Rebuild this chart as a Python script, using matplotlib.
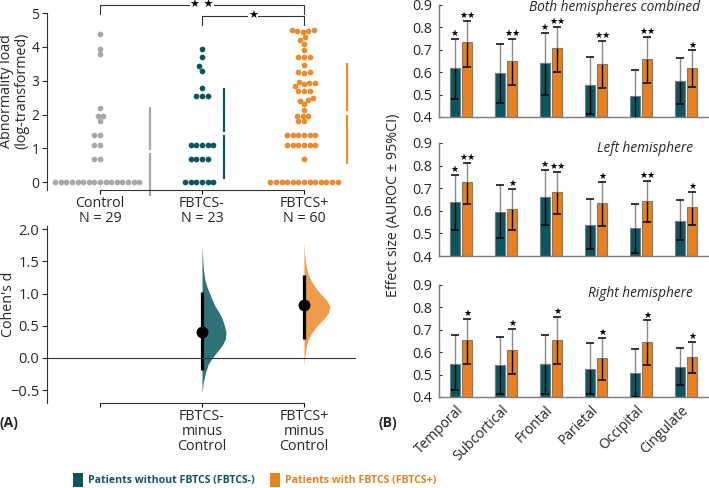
import numpy as np
import matplotlib
matplotlib.use("Agg")
import matplotlib.pyplot as plt
from matplotlib.patches import Rectangle

plt.rcParams["font.family"] = ["Open Sans", "DejaVu Sans"]

TEAL = "#0c5660"
ORANGE = "#e8801f"
GRAY = "#a8a8a8"
TXT = "#262626"

# ---- Panel A, top: abnormality load (log-transformed) per group
groups = ["Control", "FBTCS-", "FBTCS+"]
group_labels = ["Control\nN = 29", "FBTCS-\nN = 23", "FBTCS+\nN = 60"]
control = [4.37, 3.95, 3.78, 2.20, 1.95, 1.95, 1.80, 1.39, 1.39, 1.10, 1.10,
           0.69, 0.69] + [0.0] * 16
fbtcs_neg = [3.93, 3.69, 3.43, 3.30, 2.77, 2.56, 2.56, 2.56] + [1.10] * 5 \
    + [0.69] * 4 + [0.0] * 6
fbtcs_pos = [4.50, 4.49, 4.47, 4.46, 4.44, 4.29, 4.21, 4.09, 3.91,
             3.69, 3.69, 3.69, 3.47, 3.27, 3.27, 3.24,
             2.97, 2.94, 2.94, 2.89, 2.83, 2.69, 2.69, 2.69,
             2.48, 2.42, 2.40, 2.30, 2.12, 1.96, 1.96, 1.96, 1.80, 1.80] \
    + [1.39] * 6 + [1.10] * 6 + [0.69] + [0.0] * 13

# ---- Panel A, bottom: Cohen's d vs control
contrast_labels = ["", "FBTCS-\nminus\nControl", "FBTCS+\nminus\nControl"]
cohen_d = [0.40, 0.82]
cohen_lo = [-0.18, 0.30]
cohen_hi = [1.02, 1.29]
# bootstrap distribution outline (y level, half width)
neg_dist_y = [-0.55, -0.40, -0.25, -0.10, 0.00, 0.10, 0.20, 0.30, 0.40, 0.50,
              0.60, 0.70, 0.80, 0.90, 1.00, 1.10, 1.20, 1.35, 1.50, 1.75]
neg_dist_w = [0.00, 0.01, 0.03, 0.06, 0.10, 0.15, 0.20, 0.23, 0.235, 0.22,
              0.20, 0.17, 0.13, 0.10, 0.075, 0.05, 0.03, 0.015, 0.008, 0.0]
pos_dist_y = [-0.10, 0.05, 0.20, 0.30, 0.40, 0.50, 0.60, 0.70, 0.80, 0.90,
              1.00, 1.10, 1.20, 1.30, 1.45, 1.60, 1.80]
pos_dist_w = [0.00, 0.01, 0.025, 0.045, 0.08, 0.13, 0.19, 0.24, 0.255, 0.22,
              0.16, 0.11, 0.07, 0.04, 0.018, 0.007, 0.0]

# ---- Panel B: AUROC per region
regions = ["Temporal", "Subcortical", "Frontal", "Parietal", "Occipital", "Cingulate"]

both_neg = [0.618, 0.596, 0.643, 0.544, 0.493, 0.560]
both_neg_lo = [0.482, 0.462, 0.500, 0.413, 0.370, 0.458]
both_neg_hi = [0.747, 0.726, 0.777, 0.669, 0.612, 0.663]
both_pos = [0.735, 0.652, 0.706, 0.636, 0.661, 0.620]
both_pos_lo = [0.625, 0.544, 0.599, 0.529, 0.551, 0.534]
both_pos_hi = [0.830, 0.750, 0.803, 0.740, 0.756, 0.697]
both_neg_sig = ["★", "", "★", "", "", ""]
both_pos_sig = ["★★", "★★", "★★", "★★", "★★", "★"]

left_neg = [0.638, 0.594, 0.660, 0.538, 0.522, 0.554]
left_neg_lo = [0.515, 0.479, 0.535, 0.432, 0.415, 0.471]
left_neg_hi = [0.759, 0.713, 0.779, 0.653, 0.632, 0.647]
left_pos = [0.726, 0.610, 0.684, 0.635, 0.643, 0.616]
left_pos_lo = [0.628, 0.515, 0.585, 0.532, 0.549, 0.537]
left_pos_hi = [0.812, 0.696, 0.772, 0.729, 0.731, 0.684]
left_neg_sig = ["★", "", "★", "", "", ""]
left_pos_sig = ["★★", "★", "★★", "★", "★★", "★"]

right_neg = [0.549, 0.541, 0.546, 0.524, 0.507, 0.534]
right_neg_lo = [0.430, 0.415, 0.415, 0.415, 0.398, 0.452]
right_neg_hi = [0.675, 0.666, 0.675, 0.643, 0.614, 0.619]
right_pos = [0.653, 0.611, 0.656, 0.574, 0.647, 0.579]
right_pos_lo = [0.549, 0.504, 0.549, 0.474, 0.544, 0.507]
right_pos_hi = [0.747, 0.704, 0.757, 0.662, 0.742, 0.646]
right_neg_sig = ["", "", "", "", "", ""]
right_pos_sig = ["★", "★", "★", "★", "★", "★"]

W, H = 709, 488
fig = plt.figure(figsize=(W / 100, H / 100), dpi=100)


def rect(l, t, r, b):
    return [l / W, 1 - b / H, (r - l) / W, (b - t) / H]


def beeswarm(vals, xpx, ypx, d):
    """Offsets (data units) so that dots of diameter d px do not overlap."""
    order = np.argsort(vals, kind="stable")
    placed = []
    offs = np.zeros(len(vals))
    for i in order:
        y = vals[i] * ypx
        cands = [0.0]
        for (px, py) in placed:
            dy = abs(py - y)
            if dy < d:
                dx = np.sqrt(d ** 2 - dy ** 2)
                cands += [px - dx, px + dx]
        cands.sort(key=abs)
        for c in cands:
            if all((c - px) ** 2 + (y - py) ** 2 >= d ** 2 - 1e-6 for px, py in placed):
                break
        placed.append((c, y))
        offs[i] = c / xpx
    return offs


# ================= Panel A top: swarm =================
ax1 = fig.add_axes(rect(47, 13, 356, 190))
swarm_colors = [GRAY, TEAL, "#ee8a28"]
XPX, YPX, DOT = 101.9, 33.86, 5.6
gap_offsets = [0.49, 0.22, 0.42]
for i, vals in enumerate([control, fbtcs_neg, fbtcs_pos]):
    vals = np.array(vals)
    xo = beeswarm(vals, XPX, YPX, DOT)
    ax1.scatter(i + xo, vals, s=17, color=swarm_colors[i], linewidths=0, zorder=3)
    m = np.mean(vals)
    s = np.std(vals, ddof=1)
    xg = i + gap_offsets[i]
    c = swarm_colors[i]
    ax1.plot([xg, xg], [m - s, m - 0.05], color=c, lw=1.6, clip_on=False, solid_capstyle="butt")
    ax1.plot([xg, xg], [m + 0.05, m + s], color=c, lw=1.6, clip_on=False, solid_capstyle="butt")

ax1.set_xlim(-0.52, 2.51)
ax1.set_ylim(-0.23, 5.0)
ax1.set_yticks([0, 1, 2, 3, 4, 5])
ax1.set_xticks([0, 1, 2])
ax1.set_xticklabels(group_labels, fontsize=10.3, color=TXT, linespacing=1.0)
ax1.tick_params(axis="y", labelsize=10, colors=TXT, length=3.5, width=0.8, pad=2)
ax1.tick_params(axis="x", length=3, width=0.8, pad=1)
ax1.set_ylabel("Abnormality load\n(log-transformed)", fontsize=10.3, color=TXT, linespacing=1.05)
ax1.yaxis.set_label_coords(-0.058, 0.56)
for sp in ["top", "right"]:
    ax1.spines[sp].set_visible(False)
ax1.spines["bottom"].set_bounds(0, 2)
for sp in ["left", "bottom"]:
    ax1.spines[sp].set_linewidth(0.8)
    ax1.spines[sp].set_color("#333333")

# significance brackets
for (xa, xb, yb, ydrop, lab, xs) in [(0, 2, 5.24, 4.97, "★ ★", 1.0), (1, 2, 4.92, 4.65, "★", 1.5)]:
    ax1.plot([xa, xa, xb, xb], [ydrop, yb, yb, ydrop], color="#333333", lw=0.8, clip_on=False)
    ax1.text(xs, yb, lab, ha="center", va="center", fontsize=8, color="black",
             family="DejaVu Sans", clip_on=False,
             bbox=dict(facecolor="white", edgecolor="none", pad=0.2))

# ================= Panel A bottom: Cohen's d =================
ax2 = fig.add_axes(rect(47, 226, 356, 403))
dist_colors = ["#2e7279", "#f09a4c"]
for i, (dy, dw) in enumerate([(neg_dist_y, neg_dist_w), (pos_dist_y, pos_dist_w)]):
    xc = i + 1
    ax2.fill_betweenx(dy, xc, xc + np.array(dw), color=dist_colors[i], lw=0)
    ax2.plot([xc, xc], [cohen_lo[i], cohen_hi[i]], color="black", lw=2.3, solid_capstyle="butt")
    ax2.plot(xc, cohen_d[i], "o", color="black", markersize=7.5)
ax2.axhline(0, color="#333333", lw=0.8)
ax2.set_xlim(-0.52, 2.51)
ax2.set_ylim(-0.70, 2.05)
ax2.set_yticks([-0.5, 0.0, 0.5, 1.0, 1.5, 2.0])
ax2.set_yticklabels(["\u22120.5", "0.0", "0.5", "1.0", "1.5", "2.0"])
ax2.set_xticks([0, 1, 2])
ax2.set_xticklabels(contrast_labels, fontsize=10.3, color=TXT, linespacing=1.0)
ax2.tick_params(axis="y", labelsize=10.5, colors=TXT, length=3.5, width=0.8, pad=2)
ax2.tick_params(axis="x", length=3, width=0.8, pad=1)
ax2.set_ylabel("Cohen's d", fontsize=10.3, color=TXT)
ax2.yaxis.set_label_coords(-0.1, 0.56)
for sp in ["top", "right"]:
    ax2.spines[sp].set_visible(False)
ax2.spines["bottom"].set_bounds(0, 2)
for sp in ["left", "bottom"]:
    ax2.spines[sp].set_linewidth(0.8)
    ax2.spines[sp].set_color("#333333")

# ================= Panel B =================
panels = [
    ("Both hemispheres combined", (5, 117), 0.975,
     both_neg, both_neg_lo, both_neg_hi, both_pos, both_pos_lo, both_pos_hi, both_neg_sig, both_pos_sig),
    ("Left hemisphere", (143, 256), 0.955,
     left_neg, left_neg_lo, left_neg_hi, left_pos, left_pos_lo, left_pos_hi, left_neg_sig, left_pos_sig),
    ("Right hemisphere", (285, 397), 0.92,
     right_neg, right_neg_lo, right_neg_hi, right_pos, right_pos_lo, right_pos_hi, right_neg_sig, right_pos_sig),
]
xr = np.arange(len(regions))
off, bw, cap = 0.135, 0.235, 0.09
for k, (title, (top, bot), ty, nv, nl, nh, pv, pl, ph, ns, ps) in enumerate(panels):
    ax = fig.add_axes(rect(439, top, 708, bot))
    for xs, v, lo, hi, sig, col in [(xr - off, nv, nl, nh, ns, TEAL), (xr + off, pv, pl, ph, ps, ORANGE)]:
        ax.bar(xs, v, width=bw, color=col, edgecolor="#7a7a7a", linewidth=0.8, zorder=2)
        ax.vlines(xs, lo, v, color="black", lw=1.0, zorder=3)
        ax.vlines(xs, v, hi, color="#8a8a8a", lw=1.0, zorder=3)
        ax.hlines(lo, xs - cap, xs + cap, color="black", lw=1.1, zorder=3)
        ax.hlines(hi, xs - cap, xs + cap, color="black", lw=1.1, zorder=3)
        for xi, hii, s in zip(xs, hi, sig):
            if s:
                ax.text(xi, hii + 0.004, s, ha="center", va="bottom", fontsize=6.5,
                        family="DejaVu Sans", color="black")
    ax.set_xlim(-0.49, 5.49)
    ax.set_ylim(0.4, 0.9)
    ax.set_yticks([0.4, 0.5, 0.6, 0.7, 0.8, 0.9])
    ax.tick_params(axis="y", labelsize=10.3, colors=TXT, direction="in", length=2.5, width=0.8, pad=5)
    ax.set_xticks(xr)
    if k == 2:
        ax.set_xticklabels(regions, rotation=45, ha="right", va="center",
                           rotation_mode="anchor", fontsize=10, color=TXT)
        ax.tick_params(axis="x", length=0, pad=8)
    else:
        ax.set_xticklabels([])
        ax.tick_params(axis="x", length=0)
    for sp in ["top", "right"]:
        ax.spines[sp].set_visible(False)
    for sp in ["left", "bottom"]:
        ax.spines[sp].set_color("#7a7a7a")
        ax.spines[sp].set_linewidth(1.0)
    ax.text(0.945 if k else 0.97, ty, title, transform=ax.transAxes, ha="right", va="center",
            fontsize=9.8, style="italic", color=TXT)

fig.text(394 / W, 1 - 205 / H, "Effect size (AUROC \u00b1 95%CI)", rotation=90,
         ha="center", va="center", fontsize=10.3, color=TXT)
fig.text(0 / W, 1 - 423 / H, "(A)", fontsize=10, fontweight="bold", va="center", color=TXT)
fig.text(379 / W, 1 - 423 / H, "(B)", fontsize=10, fontweight="bold", va="center", color=TXT)

# ---- legend
for x0, col, lab in [(73, TEAL, "Patients without FBTCS (FBTCS-)"),
                     (270, ORANGE, "Patients with FBTCS (FBTCS+)")]:
    fig.add_artist(Rectangle((x0 / W, 1 - 487 / H), 10 / W, 14 / H,
                             transform=fig.transFigure, color=col, lw=0))
    fig.text((x0 + 15) / W, 1 - 480 / H, lab, color=col, fontsize=7.6,
             fontweight="bold", va="center", ha="left")

fig.savefig("out.png", dpi=100)
